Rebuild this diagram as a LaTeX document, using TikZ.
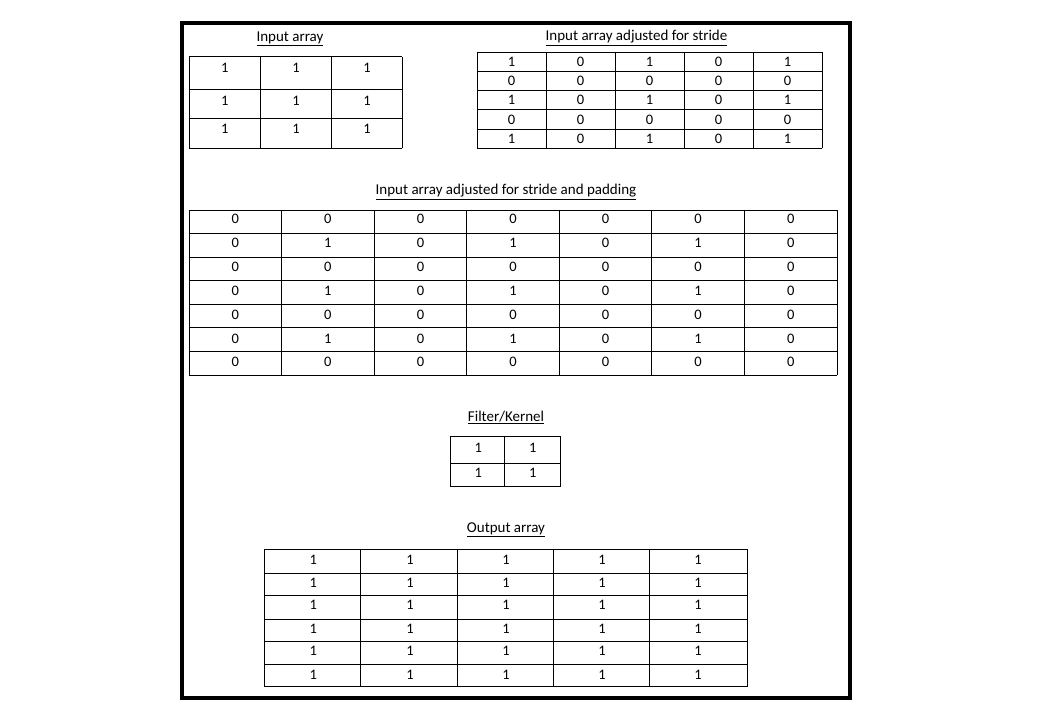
\documentclass[tikz,border=0pt]{standalone}
\usepackage{fontspec}
\setmainfont{Carlito}
\begin{document}
\begin{tikzpicture}[x=1bp,y=-1bp,
  gl/.style={line width=1bp, draw=black},
  frame/.style={line width=4bp, draw=black},
  cell/.style={anchor=base, inner sep=0pt, font=\fontsize{14.5bp}{17bp}\selectfont},
  ttl/.style={anchor=base, inner sep=0pt, font=\fontsize{15bp}{18bp}\selectfont}]
\useasboundingbox (0,0) rectangle (1043,724);
\draw[frame] (182,23) rectangle (850,698);

% ---------- Input array ----------
\node[ttl] (t-in) at (290,41.5) {\underline{Input array}};
\foreach \x in {189.3,260.3,331.7,402.3} \draw[gl] (\x,57) -- (\x,148.3);
\foreach \y in {57,89.3,118.3,148.3} \draw[gl] (189.3,\y) -- (402.3,\y);
\foreach \r/\yy in {1/72.6,2/105.3,3/133.6}
  \foreach \c/\xx in {1/224.8,2/296,3/367}
    \node[cell] (in-\r-\c) at (\xx,\yy) {1};

% ---------- Input array adjusted for stride ----------
\node[ttl] (t-st) at (636.5,41) {\underline{Input array adjusted for stride}};
\foreach \x in {477,546,615,684,753,822} \draw[gl] (\x,52.3) -- (\x,148.3);
\foreach \y in {52.3,71.7,90.7,110,130,148.3} \draw[gl] (477,\y) -- (822,\y);
\foreach \r/\yy/\row in {1/66.6/{1,0,1,0,1},2/85.6/{0,0,0,0,0},3/104.6/{1,0,1,0,1},4/124.6/{0,0,0,0,0},5/143.6/{1,0,1,0,1}}
  \foreach \v [count=\c] in \row
    \node[cell] (st-\r-\c) at ({442.5+69*\c},\yy) {\v};

% ---------- Input array adjusted for stride and padding ----------
\node[ttl] (t-pd) at (506,195) {\underline{Input array adjusted for stride and padding}};
\foreach \x in {189,281.6,374.1,466.7,559.3,651.9,744.4,837} \draw[gl] (\x,210) -- (\x,375);
\foreach \y in {210,233.6,257.1,280.7,304.3,327.9,351.4,375} \draw[gl] (189,\y) -- (837,\y);
\foreach \r/\yy/\row in {1/223.6/{0,0,0,0,0,0,0},2/247.6/{0,1,0,1,0,1,0},3/271.6/{0,0,0,0,0,0,0},4/295.6/{0,1,0,1,0,1,0},5/319.6/{0,0,0,0,0,0,0},6/343.6/{0,1,0,1,0,1,0},7/366.6/{0,0,0,0,0,0,0}}
  \foreach \v [count=\c] in \row
    \node[cell] (pd-\r-\c) at ({189+92.57*(\c-0.5)},\yy) {\v};

% ---------- Filter/Kernel ----------
\node[ttl] (t-k) at (506,421) {\underline{Filter/Kernel}};
\foreach \x in {450,504.3,560.7} \draw[gl] (\x,436.7) -- (\x,486.7);
\foreach \y in {436.7,463.3,486.7} \draw[gl] (450,\y) -- (560.7,\y);
\foreach \r/\yy in {1/452.3,2/477.6}
  \foreach \c/\xx in {1/478.3,2/532.7}
    \node[cell] (k-\r-\c) at (\xx,\yy) {1};

% ---------- Output array ----------
\node[ttl] (t-out) at (506,532.5) {\underline{Output array}};
\foreach \x in {264.3,360.3,457.3,553.3,649.3,747.7} \draw[gl] (\x,549.7) -- (\x,686);
\foreach \y in {549.7,573.3,595.3,619.7,641.7,664.7,686} \draw[gl] (264.3,\y) -- (747.7,\y);
\foreach \r/\yy in {1/564.6,2/587.9,3/609.6,4/633.9,5/655.3,6/679.6}
  \foreach \c/\xx in {1/313.3,2/410,3/506,4/602,5/698}
    \node[cell] (out-\r-\c) at (\xx,\yy) {1};
\end{tikzpicture}
\end{document}
